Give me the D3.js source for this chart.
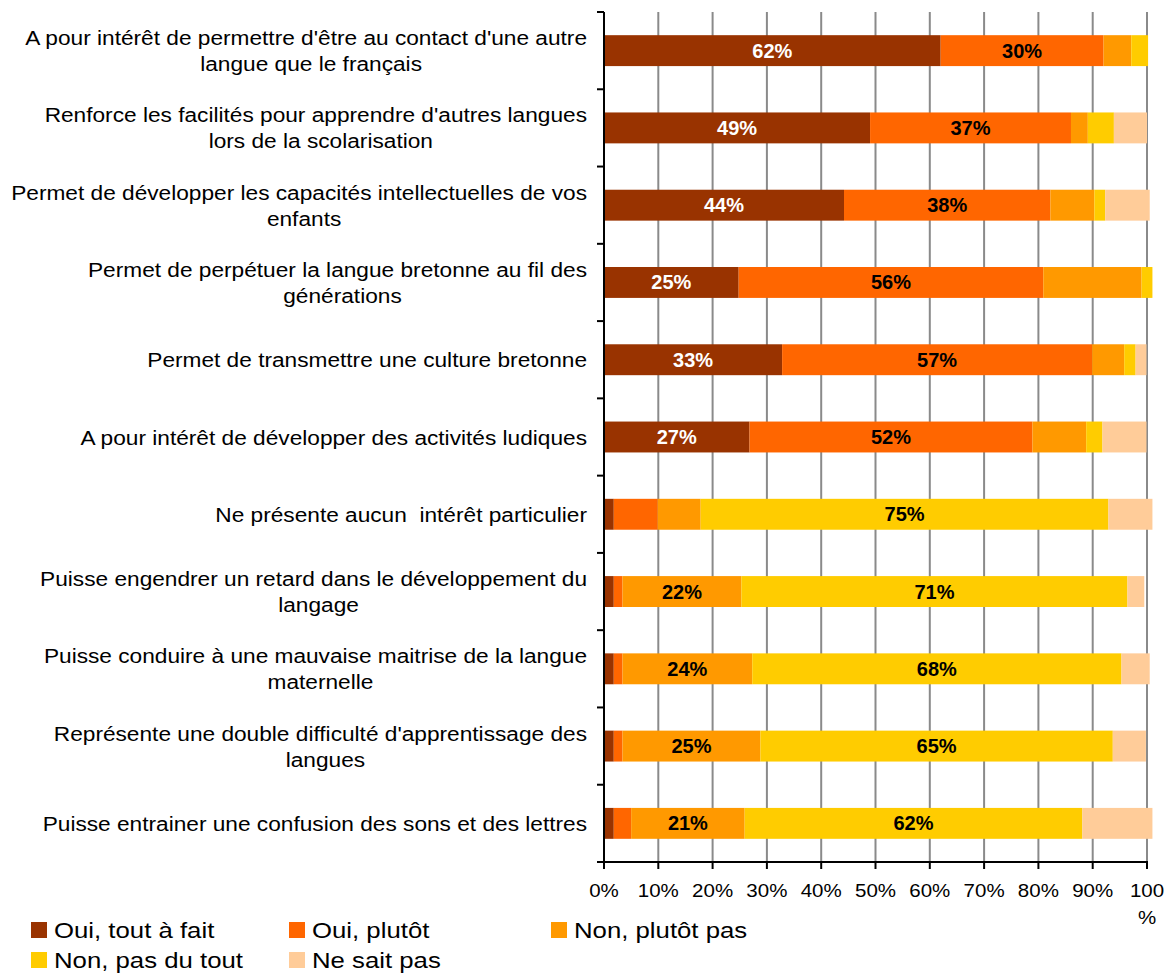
<!DOCTYPE html>
<html><head><meta charset="utf-8">
<script src="https://cdn.jsdelivr.net/npm/d3@7"></script>
<style>body{margin:0;background:#fff}svg{display:block}text{font-family:"Liberation Sans",Arial,sans-serif;white-space:pre}</style>
</head><body><svg id="c" width="1169" height="974"></svg>
<script>
const categories = [
  "A pour intérêt de permettre d'être au contact d'une autre\nlangue que le français",
  "Renforce les facilités pour apprendre d'autres langues\nlors de la scolarisation",
  "Permet de développer les capacités intellectuelles de vos\nenfants",
  "Permet de perpétuer la langue bretonne au fil des\ngénérations",
  "Permet de transmettre une culture bretonne",
  "A pour intérêt de développer des activités ludiques",
  "Ne présente aucun  intérêt particulier",
  "Puisse engendrer un retard dans le développement du\nlangage",
  "Puisse conduire à une mauvaise maitrise de la langue\nmaternelle",
  "Représente une double difficulté d'apprentissage des\nlangues",
  "Puisse entrainer une confusion des sons et des lettres"
];
const seriesNames = ["Oui, tout à fait", "Oui, plutôt", "Non, plutôt pas", "Non, pas du tout", "Ne sait pas"];
const seriesColors = ["#993300", "#FF6600", "#FF9900", "#FFCC00", "#FFCC99"];
const ouiToutAFait = [62, 49, 44.2, 24.8, 32.8, 26.8, 1.8, 1.8, 1.8, 1.8, 1.8];
const ouiPlutot    = [30, 37, 38, 56.1, 57.1, 52.1, 8.1, 1.6, 1.6, 1.6, 3.2];
const nonPlutotPas = [5.1, 3.1, 8.1, 18.1, 5.9, 9.9, 7.9, 21.9, 23.9, 25.4, 20.9];
const nonPasDuTout = [3.1, 4.8, 2, 2, 2.1, 3, 75.1, 71.1, 68, 64.9, 62.2];
const neSaitPas    = [0, 6.1, 8.2, 0, 2, 8.1, 8.1, 3.1, 5.2, 6.1, 12.9];
const xTicks = [0, 10, 20, 30, 40, 50, 60, 70, 80, 90, 100];
const tickLabels = ["0%", "10%", "20%", "30%", "40%", "50%", "60%", "70%", "80%", "90%", "100%"];

(function () {
const series = [ouiToutAFait, ouiPlutot, nonPlutotPas, nonPasDuTout, neSaitPas];
const rows = categories.map((c, i) => {
  const r = {cat: c};
  seriesNames.forEach((s, k) => r[s] = series[k][i]);
  return r;
});
const stacked = d3.stack().keys(seriesNames)(rows);

const svg = d3.select("#c");
const pLeft = 604, pRight = 1147, pTop = 12, pBottom = 862;
const x = d3.scaleLinear().domain([0, 100]).range([pLeft, pRight]);
const y = d3.scaleBand().domain(categories).range([pTop, pBottom]).paddingInner(0.6).paddingOuter(0.3);
const color = d3.scaleOrdinal().domain(seriesNames).range(seriesColors);

// gridlines
svg.append("g").selectAll("line").data(xTicks.filter(t => t > 0)).join("line")
  .attr("x1", d => x(d)).attr("x2", d => x(d)).attr("y1", pTop).attr("y2", pBottom)
  .attr("stroke", "#8a8a8a").attr("stroke-width", 2);

// bars
const g = svg.append("g");
stacked.forEach(layer => {
  g.append("g").selectAll("rect").data(layer).join("rect")
    .attr("x", d => x(d[0])).attr("width", d => x(d[1]) - x(d[0]))
    .attr("y", d => y(d.data.cat)).attr("height", y.bandwidth())
    .attr("fill", color(layer.key));
});
// data labels
stacked.forEach((layer, k) => {
  g.append("g").selectAll("text").data(layer.filter(d => d[1] - d[0] >= 20)).join("text")
    .attr("x", d => x((d[0] + d[1]) / 2)).attr("y", d => y(d.data.cat) + y.bandwidth() / 2 + 7)
    .attr("text-anchor", "middle").attr("font-weight", "bold").attr("font-size", 20)
    .attr("fill", k === 0 ? "#fff" : "#000")
    .text(d => Math.round(d[1] - d[0]) + "%");
});

// axes lines
svg.append("line").attr("x1", pLeft).attr("x2", pLeft).attr("y1", pTop).attr("y2", pBottom + 1)
  .attr("stroke", "#000").attr("stroke-width", 2);
svg.append("line").attr("x1", pLeft - 1).attr("x2", pRight + 1).attr("y1", pBottom).attr("y2", pBottom)
  .attr("stroke", "#000").attr("stroke-width", 2);
// y ticks at band boundaries
const yBounds = d3.range(categories.length + 1).map(i => pTop + i * (pBottom - pTop) / categories.length);
svg.append("g").selectAll("line").data(yBounds).join("line")
  .attr("x1", pLeft - 7).attr("x2", pLeft).attr("y1", d => d).attr("y2", d => d)
  .attr("stroke", "#000").attr("stroke-width", 2);
// x ticks
svg.append("g").selectAll("line").data(xTicks).join("line")
  .attr("x1", d => x(d)).attr("x2", d => x(d)).attr("y1", pBottom).attr("y2", pBottom + 7)
  .attr("stroke", "#000").attr("stroke-width", 2);

function stext(parent, str, tx, ty, size, sx, anchor) {
  return parent.append("text").attr("transform", `translate(${tx},${ty}) scale(${sx},1)`)
    .attr("font-size", size).attr("text-anchor", anchor).attr("fill", "#000").text(str);
}

// x tick labels
const tl = svg.append("g");
xTicks.forEach((t, i) => {
  const lab = tickLabels[i];
  if (t === 100) {
    stext(tl, lab.slice(0, -1), x(t), pBottom + 35, 18, 1.14, "middle");
    stext(tl, lab.slice(-1), x(t), pBottom + 62, 18, 1.14, "middle");
  } else {
    stext(tl, lab, x(t), pBottom + 35, 18, 1.14, "middle");
  }
});

// category labels
const cl = svg.append("g");
const labelRight = 587;
categories.forEach(c => {
  const lines = c.split("\n");
  const cy = y(c) + y.bandwidth() / 2;
  if (lines.length === 1) {
    stext(cl, lines[0], labelRight, cy + 7.5, 21, 1.08, "end");
  } else {
    const t1 = stext(cl, lines[0], labelRight, cy - 13 + 7.5, 21, 1.08, "end");
    const w = t1.node().getComputedTextLength() * 1.08;
    stext(cl, lines[1], labelRight - w / 2 + 5, cy + 13 + 7.5, 21, 1.08, "middle");
  }
});

// legend
const legPos = [[31, 922], [289, 922], [551, 922], [31, 952], [289, 952]];
const lg = svg.append("g");
seriesNames.forEach((s, i) => {
  const [lx, ly] = legPos[i];
  lg.append("rect").attr("x", lx).attr("y", ly).attr("width", 16).attr("height", 16).attr("fill", color(s));
  stext(lg, s, lx + 23, ly + 16, 23, 1.12, "start");
});
})();
</script></body></html>
